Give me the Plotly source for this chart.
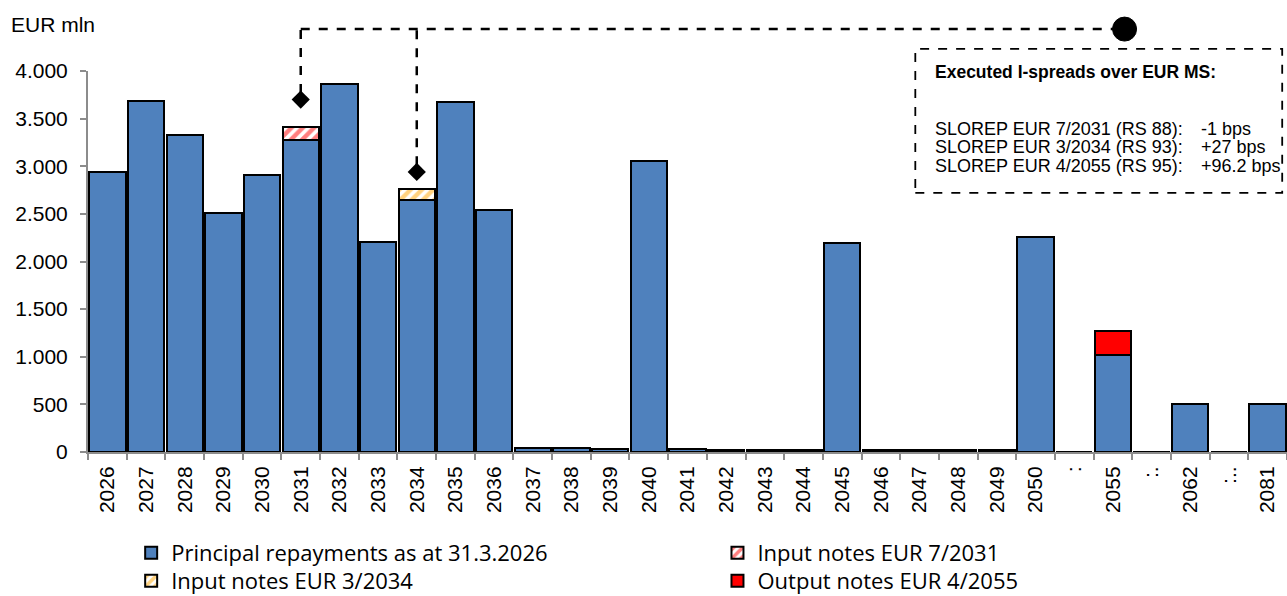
import plotly.graph_objects as go

categories = ["2026", "2027", "2028", "2029", "2030", "2031", "2032", "2033", "2034", "2035",
              "2036", "2037", "2038", "2039", "2040", "2041", "2042", "2043", "2044", "2045",
              "2046", "2047", "2048", "2049", "2050", "gap1", "2055", "gap2", "2062", "gap3", "2081"]
tick_labels = ["2026", "2027", "2028", "2029", "2030", "2031", "2032", "2033", "2034", "2035",
               "2036", "2037", "2038", "2039", "2040", "2041", "2042", "2043", "2044", "2045",
               "2046", "2047", "2048", "2049", "2050", ":", "2055", ":.", "2062", ":..", "2081"]
principal = [2935, 3685, 3325, 2510, 2905, 3275, 3860, 2210, 2650, 3675,
             2540, 40, 40, 35, 3050, 30, 20, 20, 20, 2190,
             20, 20, 20, 25, 2260, 0, 1020, 0, 500, 0, 500]
input_2031 = {"2031": 135}
input_2034 = {"2034": 110}
output_2055 = {"2055": 250}
y_ticks = [0, 500, 1000, 1500, 2000, 2500, 3000, 3500, 4000]
y_tick_labels = ["0", "500", "1.000", "1.500", "2.000", "2.500", "3.000", "3.500", "4.000"]
diamond_x = ["2031", "2034"]
diamond_y = [3700, 2940]
spread_labels = ["SLOREP EUR 7/2031 (RS 88):", "SLOREP EUR 3/2034 (RS 93):", "SLOREP EUR 4/2055 (RS 95):"]
spread_values = ["-1 bps", "+27 bps", "+96.2 bps"]

BLUE = "#4F81BD"
line = dict(color="black", width=2)
fig = go.Figure()
fig.add_trace(go.Bar(x=categories, y=principal, name="Principal repayments as at 31.3.2026",
                     marker=dict(color=BLUE, line=line), legend="legend"))
fig.add_trace(go.Bar(x=list(input_2031.keys()), y=list(input_2031.values()), name="Input notes EUR 7/2031",
                     marker=dict(color="white", line=line,
                                 pattern=dict(shape="/", fgcolor="#FF0000", bgcolor="white", size=8, solidity=0.55)),
                     legend="legend2"))
fig.add_trace(go.Bar(x=list(input_2034.keys()), y=list(input_2034.values()), name="Input notes EUR 3/2034",
                     marker=dict(color="white", line=line,
                                 pattern=dict(shape="/", fgcolor="#FFA500", bgcolor="white", size=8, solidity=0.55)),
                     legend="legend3"))
fig.add_trace(go.Bar(x=list(output_2055.keys()), y=list(output_2055.values()), name="Output notes EUR 4/2055",
                     marker=dict(color="#FF0000", line=line), legend="legend4"))
fig.add_trace(go.Scatter(x=diamond_x, y=diamond_y, mode="markers", showlegend=False, cliponaxis=False,
                         marker=dict(symbol="diamond", size=14, color="black"), hoverinfo="skip"))

TOP = 1.11
CIRCLE_X = 26.3
dash = dict(color="black", width=2.5, dash="dash")
shapes = []
for cx, cy in zip(diamond_x, diamond_y):
    xi = categories.index(cx)
    shapes.append(dict(type="line", xref="x", yref="paper", x0=xi, x1=xi,
                       y0=(cy + 70) / 4000, y1=TOP, line=dash))
shapes.append(dict(type="line", xref="x", yref="paper", x0=categories.index(diamond_x[0]), x1=CIRCLE_X,
                   y0=TOP, y1=TOP, line=dash))
shapes.append(dict(type="circle", xref="x", yref="paper", xsizemode="pixel", ysizemode="pixel",
                   xanchor=CIRCLE_X, yanchor=TOP, x0=-12, x1=12, y0=-12, y1=12,
                   fillcolor="black", line=dict(color="black", width=1)))
shapes.append(dict(type="rect", xref="paper", yref="paper", x0=0.690, x1=0.996, y0=0.680, y1=1.058,
                   line=dict(color="black", width=1.8, dash="dash"), fillcolor="rgba(0,0,0,0)"))

annotations = [
    dict(text="EUR mln", xref="paper", yref="paper", x=-0.066, y=1.121, xanchor="left", yanchor="middle",
         showarrow=False, font=dict(size=21, color="black")),
    dict(text="<b>Executed I-spreads over EUR MS:</b>", xref="paper", yref="paper", x=0.705, y=0.997,
         xanchor="left", yanchor="middle", showarrow=False, font=dict(size=17.5, color="black")),
]
line_y = [0.848, 0.800, 0.751]
for lab, val, yy in zip(spread_labels, spread_values, line_y):
    annotations.append(dict(text=lab, xref="paper", yref="paper", x=0.705, y=yy, xanchor="left",
                            yanchor="middle", showarrow=False, font=dict(size=18, color="black")))
    annotations.append(dict(text=val, xref="paper", yref="paper", x=0.927, y=yy, xanchor="left",
                            yanchor="middle", showarrow=False, font=dict(size=18, color="black")))

legend_font = dict(family="Open Sans, sans-serif", size=22, color="black")
COL1, COL2 = 0.036, 0.525
ROW1, ROW2 = -0.21, -0.2835


def leg(x, y):
    return dict(orientation="v", x=x, y=y, xanchor="left", yanchor="top", tracegroupgap=0,
                font=legend_font, bgcolor="rgba(0,0,0,0)")


fig.update_layout(
    width=1287, height=596,
    margin=dict(l=88, r=0, t=71, b=144, autoexpand=False),
    barmode="stack", bargap=0.06,
    plot_bgcolor="white", paper_bgcolor="white",
    font=dict(family="Liberation Sans, Arial, sans-serif", color="black"),
    showlegend=True,
    legend=leg(COL1, ROW1), legend2=leg(COL2, ROW1),
    legend3=leg(COL1, ROW2), legend4=leg(COL2, ROW2),
    shapes=shapes, annotations=annotations,
)
fig.update_xaxes(type="category", categoryorder="array", categoryarray=categories,
                 range=[-0.5, len(categories) - 0.5], automargin=False,
                 tickvals=categories, ticktext=tick_labels, tickangle=-90,
                 tickfont=dict(size=21), showline=True, linecolor="#8C8C8C", linewidth=2,
                 ticks="outside", tickson="boundaries", ticklen=6, tickcolor="#8C8C8C", tickwidth=2,
                 ticklabelstandoff=4, showgrid=False, zeroline=False)
fig.update_yaxes(range=[0, 4000], tickvals=y_ticks, ticktext=y_tick_labels, automargin=False,
                 tickfont=dict(size=21), showline=True, linecolor="#8C8C8C", linewidth=2,
                 ticks="outside", ticklen=6, tickcolor="#8C8C8C", tickwidth=2,
                 ticklabelstandoff=8, showgrid=False, zeroline=False)

fig.write_html("out.html", config={"displayModeBar": False},
               post_script="document.body.style.margin='0';document.body.style.overflow='hidden';")
